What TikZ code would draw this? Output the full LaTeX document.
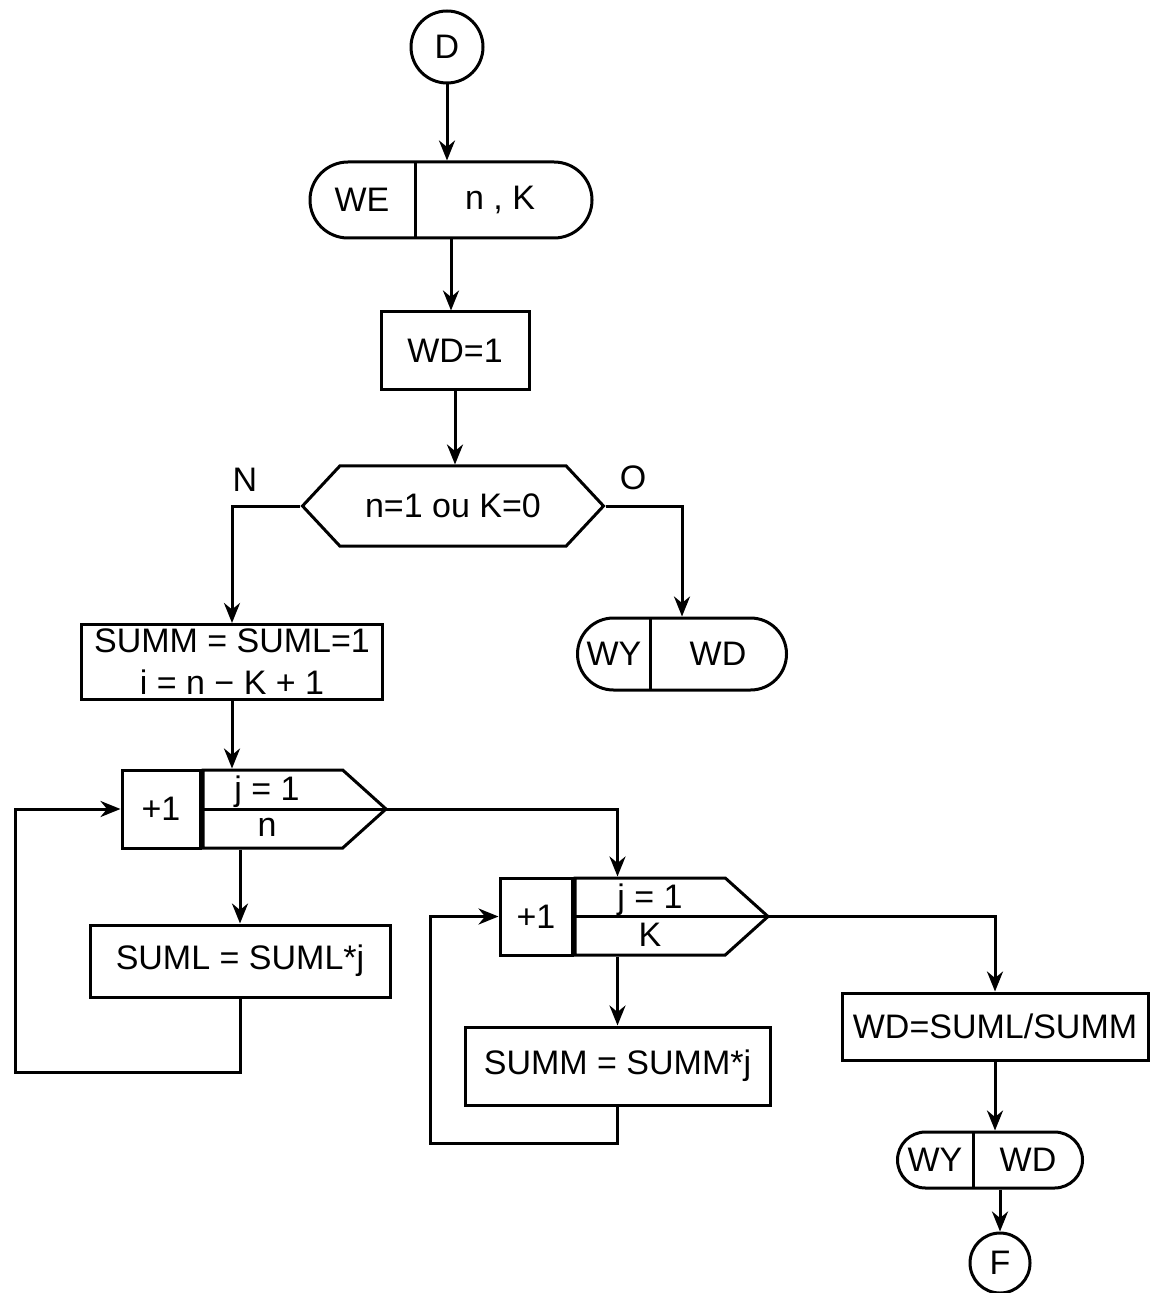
\documentclass[tikz,border=0pt]{standalone}
\usepackage{fontspec}
\setmainfont{Liberation Sans}
\usetikzlibrary{shapes.misc,shapes.symbols,arrows.meta}

\begin{document}
\begin{tikzpicture}[x=0.5pt, y=-0.5pt, >={Stealth[length=10pt,width=8pt]}, line width=1.5pt,
  every node/.style={font=\fontsize{17}{21}\selectfont},
  term/.style={draw, circle, minimum size=36pt, inner sep=0pt},
  iobox/.style={draw, rounded rectangle, inner sep=0pt},
  proc/.style={draw, rectangle, align=center, inner sep=0pt},
  test/.style={draw, signal, signal to=west and east, signal pointer angle=94, inner sep=0pt},
  incbox/.style={draw, rectangle, inner sep=0pt},
  rangebox/.style={draw, signal, signal to=east, signal pointer angle=84, inner sep=0pt}]
\useasboundingbox (0,0) rectangle (1154,1293);

\node[term] (d) at (447,47) {D};
\node[iobox, minimum width=141pt, minimum height=38pt] (we) at (451,200) {};
\node (we-a) at (362,200) {WE};
\node (we-b) at (500,200) {n , K};
\draw (415,162) -- (415,238);
\node[proc, minimum width=74pt, minimum height=39pt] (wd1) at (455,351) {WD=1};
\node[test, minimum width=150.5pt, minimum height=40pt] (cond) at (453,506) {n=1 ou K=0};
\node (no) at (245,480) {N};
\node (yes) at (633,478) {O};
\node[proc, minimum width=150.5pt, minimum height=37.5pt] (init) at (232,662) {SUMM = SUML=1\\i = n − K + 1};
\node[iobox, minimum width=104.5pt, minimum height=36pt] (out1) at (682,654) {};
\node (out1-a) at (614,654) {WY};
\node (out1-b) at (718,654) {WD};
\draw (650,618) -- (650,690);

% first loop
\node[incbox, minimum width=39pt, minimum height=39pt] (inc1) at (161,809) {+1};
\node[rangebox, minimum width=91.5pt, minimum height=39pt, anchor=west] (rng1) at (inc1.east) {};
\draw (rng1.west) -- (rng1.east);
\node (rng1-a) at (267,792) {j = 1};
\node (rng1-b) at (267,827) {n};
\node[proc, minimum width=150pt, minimum height=36pt] (suml) at (240,961) {SUML = SUML*j};
\coordinate (back1) at (15,1072);

% second loop
\node[incbox, minimum width=36pt, minimum height=38.5pt] (inc2) at (536,916.5) {+1};
\node[rangebox, minimum width=96.5pt, minimum height=38.5pt, anchor=west] (rng2) at (inc2.east) {};
\draw (rng2.west) -- (rng2.east);
\node (rng2-a) at (650,900) {j = 1};
\node (rng2-b) at (650,935) {K};
\node[proc, minimum width=152.5pt, minimum height=39pt] (summ) at (617.5,1066) {SUMM = SUMM*j};
\coordinate (back2) at (430,1143);

\node[proc, minimum width=153pt, minimum height=33.5pt] (wdf) at (995,1026.5) {WD=SUML/SUMM};
\node[iobox, minimum width=92.5pt, minimum height=28pt] (out2) at (990,1160) {};
\node (out2-a) at (935,1160) {WY};
\node (out2-b) at (1028,1160) {WD};
\draw (973,1132) -- (973,1188);
\node[term, minimum size=30pt] (f) at (1000,1263) {F};

\draw[->] (d.south) -- (d.south |- we.north);
\draw[->] (we.south) -- (we.south |- wd1.north);
\draw[->] (wd1.south) -- (wd1.south |- cond.north);
\draw[->] (cond.west) -| (init.north);
\draw[->] (cond.east) -| (out1.north);
\draw[->] (init.south) -- (init.south |- rng1.north);
\draw[->] (suml.north |- rng1.south) -- (suml.north);
\draw[->] (suml.south) |- (back1) |- (inc1.west);
\draw[->] (rng1.east) -| (summ.north |- rng2.north);
\draw[->] (summ.north |- rng2.south) -- (summ.north);
\draw[->] (summ.south) |- (back2) |- (inc2.west);
\draw[->] (rng2.east) -| (wdf.north);
\draw[->] (wdf.south) -- (wdf.south |- out2.north);
\draw[->] (f.north |- out2.south) -- (f.north);
\end{tikzpicture}
\end{document}
